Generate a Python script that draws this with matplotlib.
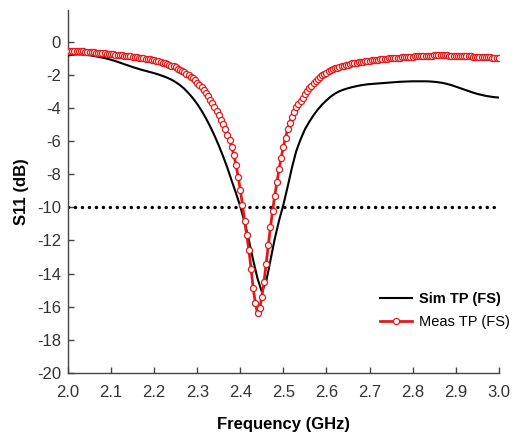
import numpy as np
import matplotlib
matplotlib.use("Agg")
import matplotlib.pyplot as plt

plt.rcParams['font.family'] = ['Liberation Sans', 'DejaVu Sans']

# Simulated S11 (10 MHz step)
sim_freq = np.round(np.arange(2.00, 3.0001, 0.01), 3)
sim_s11 = [
    -0.84, -0.80, -0.78, -0.78, -0.80, -0.83, -0.87, -0.92, -0.97, -1.03,
    -1.10, -1.18, -1.27, -1.36, -1.45, -1.54, -1.62, -1.70, -1.77, -1.84,
    -1.91, -1.99, -2.08, -2.18, -2.30, -2.45, -2.63, -2.85, -3.12, -3.42,
    -3.77, -4.17, -4.62, -5.12, -5.67, -6.27, -6.92, -7.62, -8.40, -9.15,
    -9.95, -10.9, -12.0, -13.2, -14.3, -15.1, -14.5, -13.2, -11.9, -10.8,
    -9.85, -8.75, -7.60, -6.60, -5.90, -5.30, -4.85, -4.45, -4.10, -3.80,
    -3.55, -3.32, -3.14, -3.00, -2.90, -2.82, -2.75, -2.69, -2.64, -2.60,
    -2.57, -2.55, -2.53, -2.51, -2.49, -2.47, -2.45, -2.43, -2.42, -2.41,
    -2.40, -2.40, -2.40, -2.40, -2.41, -2.43, -2.46, -2.50, -2.56, -2.63,
    -2.72, -2.81, -2.90, -2.99, -3.08, -3.16, -3.22, -3.28, -3.32, -3.36,
    -3.38,
]

# Measured S11 (5 MHz step)
meas_freq = np.round(np.linspace(2.0, 3.0, 201), 3)
meas_s11 = [
    -0.55, -0.55, -0.56, -0.56, -0.57, -0.58, -0.59, -0.60, -0.61, -0.62,
    -0.63, -0.64, -0.66, -0.67, -0.68, -0.70, -0.71, -0.72, -0.74, -0.75,
    -0.76, -0.78, -0.79, -0.81, -0.82, -0.84, -0.85, -0.87, -0.88, -0.90,
    -0.92, -0.94, -0.96, -0.98, -1.00, -1.02, -1.04, -1.06, -1.08, -1.10,
    -1.13, -1.16, -1.19, -1.23, -1.27, -1.31, -1.35, -1.40, -1.45, -1.50,
    -1.56, -1.63, -1.70, -1.77, -1.85, -1.93, -2.02, -2.12, -2.23, -2.35,
    -2.48, -2.62, -2.77, -2.93, -3.10, -3.30, -3.50, -3.72, -3.95, -4.20,
    -4.45, -4.72, -5.00, -5.30, -5.62, -5.95, -6.35, -6.85, -7.45, -8.15,
    -8.95, -9.85, -10.8, -11.7, -12.6, -13.7, -14.9, -15.8, -16.4, -16.1,
    -15.4, -14.5, -13.4, -12.3, -11.2, -10.2, -9.30, -8.50, -7.70, -7.00,
    -6.35, -5.80, -5.30, -4.90, -4.55, -4.25, -3.98, -3.78, -3.58, -3.38,
    -3.18, -3.00, -2.83, -2.67, -2.52, -2.38, -2.25, -2.14, -2.04, -1.95,
    -1.87, -1.80, -1.73, -1.67, -1.62, -1.57, -1.53, -1.49, -1.46, -1.42,
    -1.39, -1.35, -1.32, -1.30, -1.27, -1.25, -1.23, -1.21, -1.19, -1.17,
    -1.15, -1.13, -1.12, -1.10, -1.09, -1.07, -1.06, -1.05, -1.03, -1.02,
    -1.01, -1.00, -0.99, -0.98, -0.97, -0.96, -0.95, -0.94, -0.93, -0.92,
    -0.91, -0.90, -0.89, -0.88, -0.88, -0.87, -0.86, -0.86, -0.85, -0.85,
    -0.84, -0.84, -0.84, -0.84, -0.84, -0.84, -0.84, -0.85, -0.85, -0.85,
    -0.86, -0.86, -0.87, -0.87, -0.88, -0.89, -0.89, -0.90, -0.91, -0.92,
    -0.92, -0.93, -0.94, -0.94, -0.95, -0.96, -0.96, -0.97, -0.97, -0.98,
    -0.98,
]

threshold = -10
x_ticks = [2.0, 2.1, 2.2, 2.3, 2.4, 2.5, 2.6, 2.7, 2.8, 2.9, 3.0]
y_ticks = [-20, -18, -16, -14, -12, -10, -8, -6, -4, -2, 0]

fig = plt.figure(figsize=(5.19, 4.36), dpi=100)
ax = fig.add_axes([0.131, 0.1445, 0.830, 0.8325])

ax.plot([2.0, 3.0], [threshold, threshold], color='black', lw=2.5,
        linestyle=(0, (0.01, 2.0)), dash_capstyle='round', zorder=2)
ax.plot(sim_freq, sim_s11, color='black', lw=1.5, label='Sim TP (FS)', zorder=3)
ax.plot(meas_freq, meas_s11, color='#e01b1b', lw=2.0, marker='o', markersize=4.4,
        markerfacecolor='white', markeredgecolor='#e01b1b', markeredgewidth=0.9,
        label='Meas TP (FS)', zorder=4)

ax.set_xlim(2.0, 3.0)
ax.set_ylim(-20, 1.9)
ax.set_xticks(x_ticks)
ax.set_xticklabels([f"{t:.1f}" for t in x_ticks])
ax.set_yticks(y_ticks)
ax.set_yticklabels([str(t) for t in y_ticks])

for s in ['top', 'right']:
    ax.spines[s].set_visible(False)
for s in ['left', 'bottom']:
    ax.spines[s].set_color('#444444')
    ax.spines[s].set_linewidth(1.0)

ax.tick_params(axis='both', direction='in', length=4, width=1.0, color='#444444',
               labelsize=12, labelcolor='#333333')
ax.tick_params(axis='x', pad=9)
ax.tick_params(axis='y', pad=5)

ax.set_xlabel('Frequency (GHz)', fontsize=12, fontweight='bold', labelpad=12)
ax.set_ylabel('S11 (dB)', fontsize=12, fontweight='bold', labelpad=6)

leg = ax.legend(loc='upper left', bbox_to_anchor=(0.724, 0.224), frameon=False,
                borderpad=0, borderaxespad=0,
                fontsize=10.5, handlelength=2.2, handletextpad=0.5, labelspacing=0.65)
leg.get_texts()[0].set_fontweight('bold')

fig.savefig('out.png', dpi=100)
